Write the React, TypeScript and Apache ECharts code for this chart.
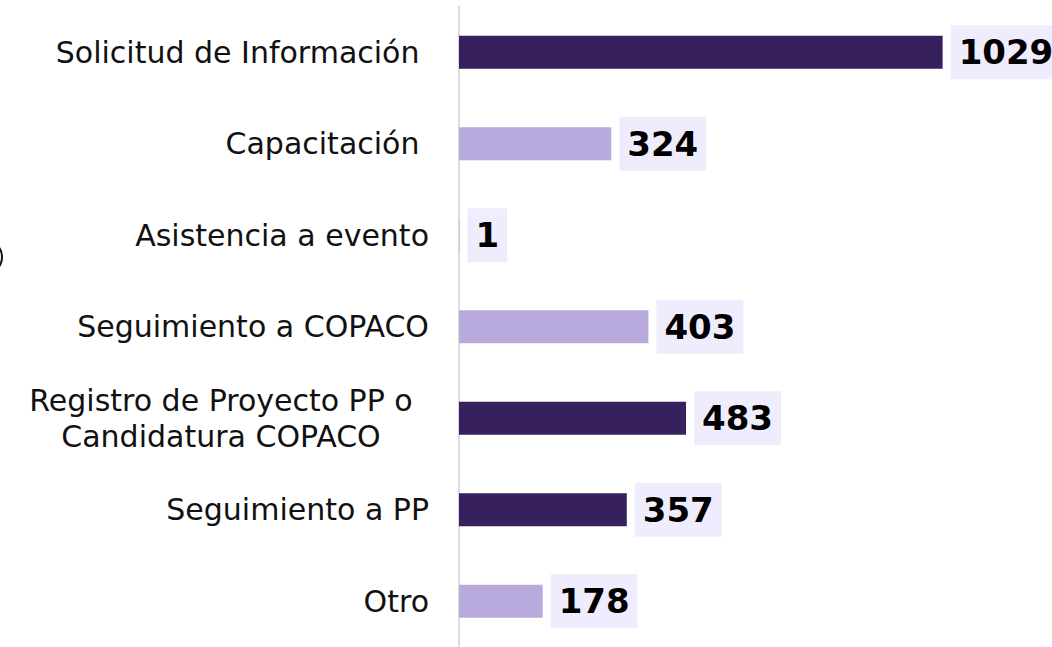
import React, { useEffect, useRef } from "react";
import * as echarts from "echarts";

const categories = [
  "Solicitud de Información ",
  "Capacitación ",
  "Asistencia a evento",
  "Seguimiento a COPACO",
  "Registro de Proyecto PP o\nCandidatura COPACO",
  "Seguimiento a PP",
  "Otro",
];
const values = [1029, 324, 1, 403, 483, 357, 178];
const shades = ["dark", "light", "light", "light", "dark", "dark", "light"];

const DARK = "#36215E";
const LIGHT = "#B9AADE";

export default function App() {
  const ref = useRef<HTMLDivElement>(null);
  useEffect(() => {
    if (!ref.current) return;
    const chart = echarts.init(ref.current, undefined, { renderer: "svg" });
    chart.setOption({
      animation: false,
      grid: { left: 459, right: 29, top: 6.4, bottom: -4.6, containLabel: false },
      xAxis: {
        type: "value",
        min: 0,
        max: 1200,
        show: false,
      },
      yAxis: {
        type: "category",
        inverse: true,
        data: categories,
        axisLine: { show: true, lineStyle: { color: "#dcdcdc", width: 2 } },
        axisTick: { show: false },
        axisLabel: {
          margin: 30,
          fontFamily: "DejaVu Sans",
          fontSize: 30,
          color: "#111",
          lineHeight: 36,
          formatter: (v: string) =>
            v.includes("\n")
              ? v
                  .split("\n")
                  .map((l) => `{c|${l}}`)
                  .join("\n")
              : v,
          rich: {
            c: {
              width: 416,
              align: "center",
              fontFamily: "DejaVu Sans",
              fontSize: 30,
              lineHeight: 36,
              color: "#111",
            },
          },
        },
      },
      series: [
        {
          type: "bar",
          barWidth: 33,
          data: values.map((v, i) => ({
            value: v,
            itemStyle: { color: shades[i] === "dark" ? DARK : LIGHT },
          })),
          label: {
            show: true,
            position: "right",
            distance: 8,
            fontFamily: "DejaVu Sans",
            fontWeight: "bold",
            fontSize: 34,
            lineHeight: 36,
            color: "#000",
            backgroundColor: "#EFEDFD",
            padding: [9, 8, 9, 8],
          },
        },
      ],
      graphic: [
        {
          type: "arc",
          shape: { cx: -14, cy: 257, r: 16, startAngle: -Math.PI / 3, endAngle: Math.PI / 3 },
          style: { stroke: "#111", lineWidth: 2, fill: "none" },
        },
      ],
    });
    return () => chart.dispose();
  }, []);
  return (
    <div
      ref={ref}
      style={{ position: "absolute", left: 0, top: 0, width: 1052, height: 647, background: "#fff" }}
    />
  );
}
